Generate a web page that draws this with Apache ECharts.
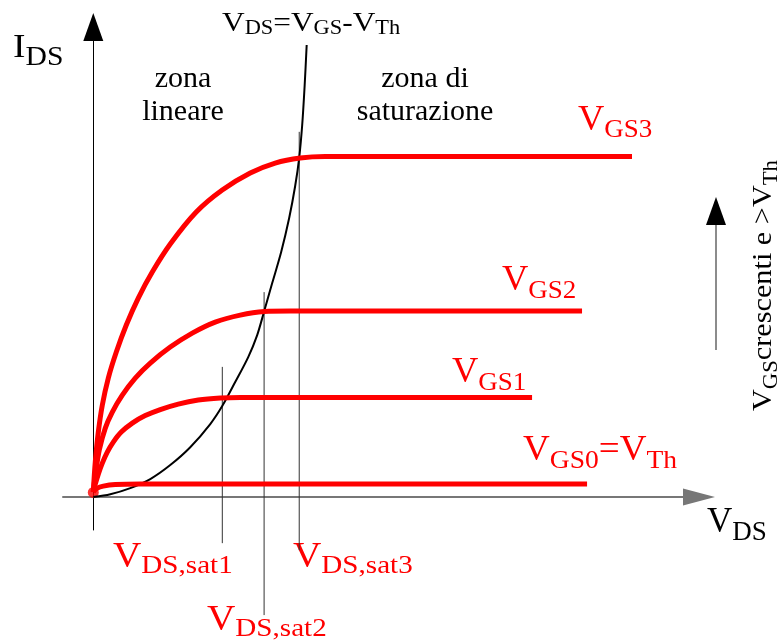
<!DOCTYPE html>
<html>
<head>
<meta charset="utf-8">
<script src="https://cdn.jsdelivr.net/npm/echarts@6/dist/echarts.min.js"></script>
<style>
  html, body { margin: 0; padding: 0; background: #fff; }
  #main { width: 783px; height: 641px; }
</style>
</head>
<body>
<div id="main"></div>
<script>
// curve points [V_DS, I_DS] (arbitrary units)
var vgs3 = [[0,0.11],[0.033,0.745],[0.083,1.383],[0.149,1.957],[0.248,2.532],[0.38,3.085],[0.545,3.66],[0.743,4.234],[0.974,4.787],[1.271,5.383],[1.7,6.064],[2.129,6.532],[2.591,6.894],[3.003,7.106],[3.416,7.213],[3.828,7.245],[8.894,7.245]];
var vgs2 = [[0,0.11],[0.033,0.468],[0.099,1.0],[0.198,1.468],[0.314,1.809],[0.479,2.17],[0.693,2.532],[0.941,2.851],[1.271,3.191],[1.634,3.489],[2.013,3.723],[2.426,3.872],[2.822,3.947],[3.251,3.957],[8.069,3.957]];
var vgs1 = [[0,0.11],[0.033,0.277],[0.083,0.489],[0.149,0.723],[0.231,0.957],[0.33,1.17],[0.462,1.383],[0.644,1.574],[0.858,1.734],[1.106,1.862],[1.403,1.979],[1.733,2.064],[2.096,2.106],[2.426,2.117],[7.244,2.117]];
var vgs0 = [[0,0.11],[0.066,0.191],[0.165,0.234],[0.363,0.266],[0.776,0.277],[8.152,0.277]];
// V_DS = V_GS - V_Th boundary
var boundary = [[0,0],[0.281,0.06],[0.611,0.191],[0.941,0.383],[1.271,0.681],[1.601,1.06],[1.931,1.553],[2.129,1.936],[2.343,2.447],[2.558,2.979],[2.706,3.447],[2.822,3.957],[2.954,4.553],[3.102,5.213],[3.234,5.936],[3.333,6.617],[3.399,7.213],[3.449,7.915],[3.49,8.766],[3.523,9.617]];
// V_DS,sat markers: x, top, bottom
var satX = [2.13, 2.82, 3.40];
var satTop = [2.77, 4.36, 7.77];
var satBottom = [-0.98, -2.51, -1.13];

var SERIF = '"Liberation Serif", "Times New Roman", serif';
var RED = '#ff0000';

var ctx = document.createElement('canvas').getContext('2d');
function tw(t, size) {
    ctx.font = size + 'px ' + SERIF;
    return ctx.measureText(t).width;
}

// text with subscripts, parts = [text, size, dy]
function textRun(x, base, parts, color, scaleX, rotation) {
    var children = [], cx = 0;
    parts.forEach(function (p) {
        var size = p[1], dy = p[2] || 0;
        children.push({
            type: 'text', x: cx, y: dy - 0.34 * size,
            style: { text: p[0], font: size + 'px ' + SERIF, fill: color, verticalAlign: 'middle', textVerticalAlign: 'middle' }
        });
        cx += tw(p[0], size);
    });
    return { type: 'group', x: x, y: base, scaleX: scaleX || 1, rotation: rotation || 0, children: children };
}
function centered(cx, base, txt, size) {
    return {
        type: 'text', x: cx, y: base - 0.34 * size,
        style: { text: txt, font: size + 'px ' + SERIF, fill: '#000', align: 'center', textAlign: 'center', verticalAlign: 'middle', textVerticalAlign: 'middle' }
    };
}

var myChart = echarts.init(document.getElementById('main'));

var series = [];
satX.forEach(function (x, i) {
    series.push({
        type: 'line', data: [[x, satBottom[i]], [x, satTop[i]]],
        symbol: 'none', clip: false, silent: true,
        lineStyle: { color: '#333', width: 1 }
    });
});
series.push({
    type: 'line', data: boundary, smooth: 0.3, symbol: 'none', clip: false,
    lineStyle: { color: '#000', width: 2 }
});
[vgs0, vgs1, vgs2, vgs3].forEach(function (d) {
    series.push({
        type: 'line', data: d, smooth: 0.3, symbol: 'none', clip: false,
        lineStyle: { color: RED, width: 5 }
    });
});
series.push({
    type: 'scatter', data: [[0, 0.1]], symbolSize: 11,
    itemStyle: { color: RED }
});

var option = {
    animation: false,
    backgroundColor: '#fff',
    grid: { left: 63, right: 84, top: 27, bottom: 111 },
    xAxis: {
        type: 'value', min: -0.5, max: 10,
        axisLabel: { show: false }, axisTick: { show: false }, splitLine: { show: false },
        axisLine: { onZero: true, symbol: ['none', 'triangle'], symbolSize: [17, 32], lineStyle: { color: '#777', width: 2 } }
    },
    yAxis: {
        type: 'value', min: -0.7, max: 10,
        axisLabel: { show: false }, axisTick: { show: false }, splitLine: { show: false },
        axisLine: { onZero: true, symbol: ['none', 'triangle'], symbolSize: [20, 28], lineStyle: { color: '#000', width: 1 } }
    },
    series: series,
    graphic: [
        textRun(13, 60, [['I', 34, 0], ['DS', 27, 7]], '#000', 1.1),
        textRun(222, 33, [['V', 28, 0], ['DS', 20, 3], ['=', 28, 0], ['V', 28, 0], ['GS', 20, 3], ['-', 28, 0], ['V', 28, 0], ['Th', 20, 3]], '#000', 1.12),
        centered(183, 89, 'zona', 30),
        centered(183, 122, 'lineare', 30),
        centered(425, 89, 'zona di', 30),
        centered(425, 122, 'saturazione', 30),
        textRun(578, 133, [['V', 35, 0], ['GS3', 26, 6]], RED, 1.04),
        textRun(502, 293, [['V', 35, 0], ['GS2', 26, 7]], RED, 1.04),
        textRun(452, 385, [['V', 35, 0], ['GS1', 26, 7]], RED, 1.04),
        textRun(523, 463, [['V', 35, 0], ['GS0', 26, 7], ['=', 35, 0], ['V', 35, 0], ['Th', 26, 7]], RED, 1.06),
        textRun(707, 535, [['V', 35, 0], ['DS', 27, 7]], '#000', 1),
        textRun(113, 570, [['V', 35, 0], ['DS,sat1', 26, 5]], RED, 1.12),
        textRun(207, 633, [['V', 35, 0], ['DS,sat2', 26, 5]], RED, 1.12),
        textRun(293, 570, [['V', 35, 0], ['DS,sat3', 26, 5]], RED, 1.12),
        textRun(773, 411, [['V', 28, 0], ['GS', 21, 6], ['crescenti e >', 28, 0], ['V', 28, 0], ['Th', 21, 6]], '#000', 1.08, Math.PI / 2),
        { type: 'line', shape: { x1: 716, y1: 350, x2: 716, y2: 220 }, style: { stroke: '#666', lineWidth: 1.5 } },
        { type: 'polygon', shape: { points: [[716, 197], [706, 225], [726, 225]] }, style: { fill: '#000' } }
    ]
};

myChart.setOption(option);
</script>
</body>
</html>
